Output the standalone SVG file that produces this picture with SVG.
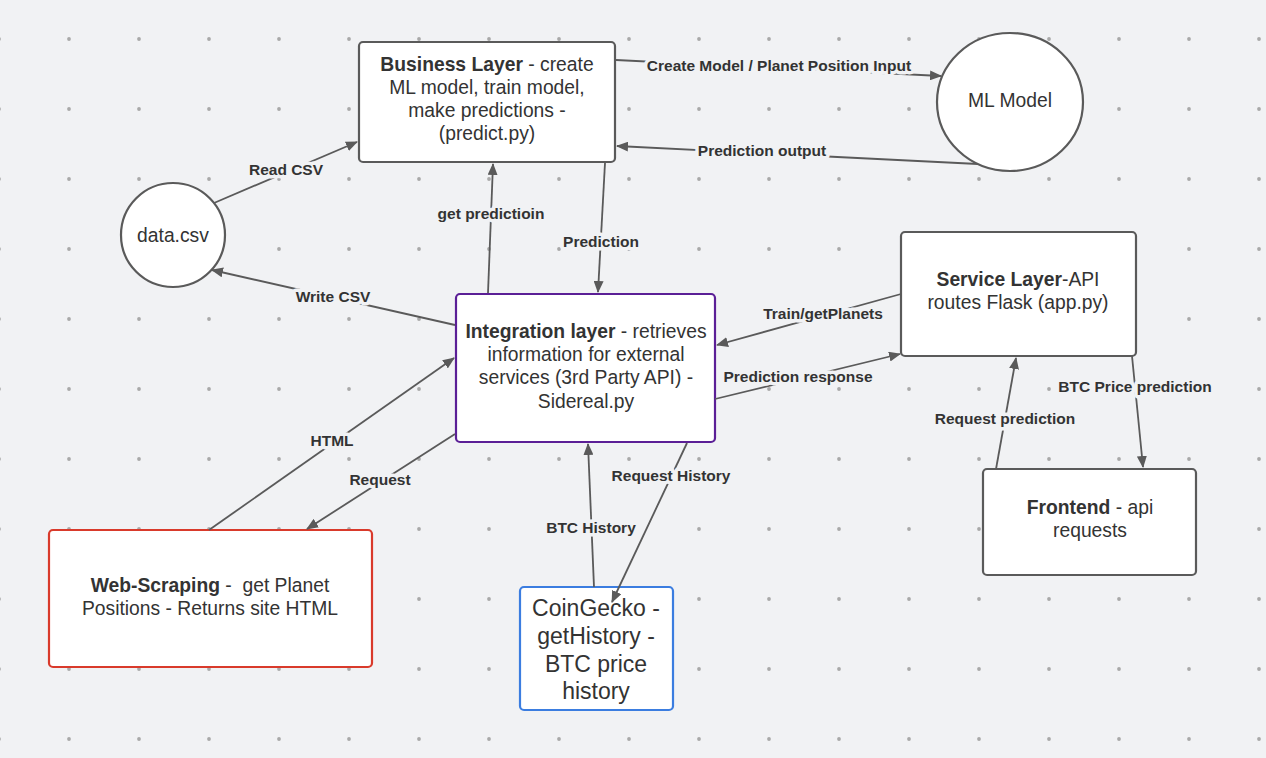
<svg xmlns="http://www.w3.org/2000/svg" width="1266" height="758" viewBox="0 0 1266 758">
<defs>
<pattern id="dots" x="34" y="4" width="70" height="70" patternUnits="userSpaceOnUse">
<circle cx="35" cy="35" r="1.9" fill="#a9a9a9"/>
</pattern>
<marker id="arr" viewBox="0 0 12 10" refX="11" refY="5" markerWidth="12" markerHeight="10" markerUnits="userSpaceOnUse" orient="auto">
<path d="M0,0 L12,5 L0,10 z" fill="#5a5a5a"/>
</marker>
<style>
.box{fill:#fff;stroke:#5a5a5a;stroke-width:2.2}
.t{font-family:"Liberation Sans",Arial,sans-serif;font-size:19.3px;fill:#333;text-anchor:middle}
.b{font-weight:bold}
.e{fill:none;stroke:#5a5a5a;stroke-width:1.8;marker-end:url(#arr)}
.l{font-family:"Liberation Sans",Arial,sans-serif;font-size:15.5px;font-weight:bold;fill:#333;text-anchor:middle;stroke:#f1f2f4;stroke-width:7;paint-order:stroke;stroke-linejoin:round}
.cg{font-size:23px}
</style>
</defs>
<rect width="1266" height="758" fill="#f1f2f4"/>
<rect width="1266" height="758" fill="url(#dots)"/>

<g id="business">
<rect class="box" x="359" y="42" width="256" height="120" rx="4"/>
<text class="t" x="487" y="71"><tspan class="b">Business Layer</tspan> - create</text>
<text class="t" x="487" y="94">ML model, train model,</text>
<text class="t" x="487" y="117">make predictions -</text>
<text class="t" x="487" y="140">(predict.py)</text>
</g>

<g id="mlmodel">
<ellipse class="box" cx="1010" cy="102" rx="73" ry="69"/>
<text class="t" x="1010" y="107">ML Model</text>
</g>

<g id="datacsv">
<circle class="box" cx="173" cy="235" r="52"/>
<text class="t" x="173" y="242">data.csv</text>
</g>

<g id="integration">
<rect class="box" x="456" y="294" width="259" height="148" rx="4" style="stroke:#5b1f96"/>
<text class="t" x="586" y="338"><tspan class="b">Integration layer</tspan> - retrieves</text>
<text class="t" x="586" y="361">information for external</text>
<text class="t" x="586" y="384">services (3rd Party API) -</text>
<text class="t" x="586" y="408">Sidereal.py</text>
</g>

<g id="service">
<rect class="box" x="901" y="232" width="235" height="124" rx="4"/>
<text class="t" x="1018" y="286"><tspan class="b">Service Layer</tspan>-API</text>
<text class="t" x="1018" y="309">routes Flask (app.py)</text>
</g>

<g id="frontend">
<rect class="box" x="983" y="469" width="213" height="106" rx="4"/>
<text class="t" x="1090" y="514"><tspan class="b">Frontend</tspan> - api</text>
<text class="t" x="1090" y="537">requests</text>
</g>

<g id="webscraping">
<rect class="box" x="49" y="530" width="323" height="137" rx="4" style="stroke:#d93a2b"/>
<text class="t" x="210" y="592" xml:space="preserve"><tspan class="b">Web-Scraping</tspan> -  get Planet</text>
<text class="t" x="210" y="615">Positions - Returns site HTML</text>
</g>

<g id="coingecko">
<rect class="box" x="520" y="587" width="153" height="123" rx="4" style="stroke:#3b7de0"/>
<text class="t cg" x="596" y="616">CoinGecko -</text>
<text class="t cg" x="596" y="644">getHistory -</text>
<text class="t cg" x="596" y="672">BTC price</text>
<text class="t cg" x="596" y="699">history</text>
</g>

<g id="connectors">
<line class="e" x1="214" y1="203" x2="357" y2="142"/>
<line class="e" x1="455" y1="325" x2="212" y2="270"/>
<line class="e" x1="616" y1="60" x2="941" y2="76"/>
<line class="e" x1="978" y1="164" x2="617" y2="146"/>
<line class="e" x1="488" y1="293" x2="493" y2="164"/>
<line class="e" x1="605" y1="163" x2="598" y2="292"/>
<line class="e" x1="901" y1="294" x2="717" y2="345"/>
<line class="e" x1="715" y1="399" x2="900" y2="354"/>
<line class="e" x1="996" y1="469" x2="1016" y2="358"/>
<line class="e" x1="1132" y1="356" x2="1143" y2="467"/>
<line class="e" x1="209" y1="530" x2="454" y2="358"/>
<line class="e" x1="455" y1="434" x2="307" y2="529"/>
<line class="e" x1="594" y1="587" x2="588" y2="444"/>
<line class="e" x1="687" y1="443" x2="612" y2="602"/>
<text class="l" x="286" y="175">Read CSV</text>
<text class="l" x="333" y="302">Write CSV</text>
<text class="l" x="779" y="71">Create Model / Planet Position Input</text>
<text class="l" x="762" y="156">Prediction output</text>
<text class="l" x="491" y="219">get predictioin</text>
<text class="l" x="601" y="247">Prediction</text>
<text class="l" x="823" y="319">Train/getPlanets</text>
<text class="l" x="798" y="382">Prediction response</text>
<text class="l" x="1135" y="392">BTC Price prediction</text>
<text class="l" x="1005" y="424">Request prediction</text>
<text class="l" x="332" y="446">HTML</text>
<text class="l" x="380" y="485">Request</text>
<text class="l" x="671" y="481">Request History</text>
<text class="l" x="591" y="533">BTC History</text>
</g>
</svg>
